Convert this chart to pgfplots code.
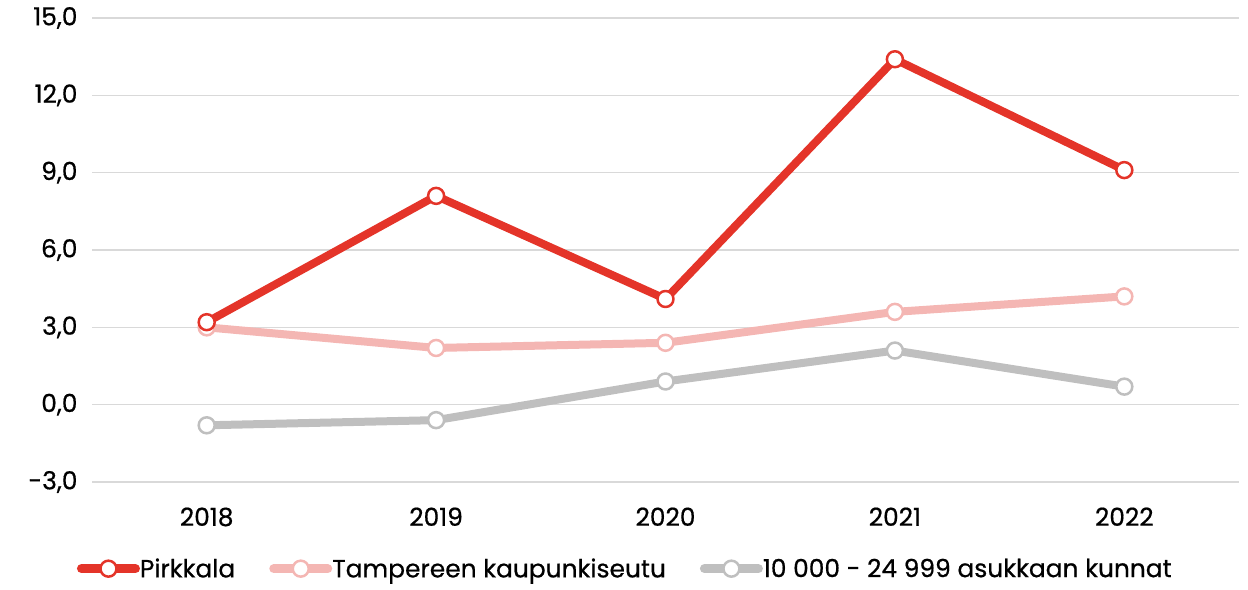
\documentclass[border=0pt]{standalone}
\usepackage{fontspec}
\setmainfont{Poppins}[FakeBold=0.6]
\usepackage{pgfplots}
\pgfplotsset{compat=1.18}
\definecolor{cred}{RGB}{228,52,41}
\definecolor{cpink}{RGB}{244,182,179}
\definecolor{cgray}{RGB}{191,191,191}
\definecolor{cgrid}{RGB}{217,217,217}
\begin{document}
\begin{tikzpicture}
\begin{axis}[
  name=ax,
  scale only axis,
  width=1147bp, height=464bp,
  xmin=-0.5, xmax=4.5,
  ymin=-3, ymax=15,
  ytick={-3,0,3,6,9,12,15},
  xtick={0,1,2,3,4},
  xticklabels={2018,2019,2020,2021,2022},
  axis line style={draw=none},
  major tick length=0pt,
  ymajorgrids,
  grid style={draw=cgrid, line width=1.6bp},
  tick label style={font=\fontsize{25}{29}\selectfont, text=black},
  yticklabel style={xshift=-11bp},
  xticklabel style={yshift=-22bp},
  /pgf/number format/assume math mode=true,
  /pgf/number format/.cd, fixed, fixed zerofill, precision=1, use comma, 1000 sep={},
  /pgfplots/.cd,
  legend columns=-1,
  legend style={draw=none, fill=none, at={(0.465,-0.16)}, anchor=north,
    font=\fontsize{25}{29}\selectfont, inner xsep=0pt, inner ysep=0pt,
    /tikz/every odd column/.append style={column sep=-2bp},
    /tikz/every even column/.append style={column sep=32bp}},
  legend cell align=left,
  legend image code/.code={
    \draw[mark repeat=2,mark phase=2, line width=9bp, line cap=round] plot coordinates {(0bp,0bp) (27bp,0bp) (54bp,0bp)};
  },
  every axis plot/.append style={line width=8bp, line join=round,
    mark=*, mark size=8bp, mark options={fill=white, line width=2.5bp}},
]
\addplot[color=cgray, forget plot] coordinates {(0,-0.8) (1,-0.6) (2,0.9) (3,2.1) (4,0.7)};
\addplot[color=cpink, forget plot] coordinates {(0,3.0) (1,2.2) (2,2.4) (3,3.6) (4,4.2)};
\addplot[color=cred] coordinates {(0,3.2) (1,8.1) (2,4.1) (3,13.4) (4,9.1)};
\addlegendentry{Pirkkala}
\addlegendimage{color=cpink}
\addlegendentry{Tampereen kaupunkiseutu}
\addlegendimage{color=cgray}
\addlegendentry{10 000 - 24 999 asukkaan kunnat}
\end{axis}
\pgfresetboundingbox
\path ([shift={(-92bp,-107bp)}]ax.south west) rectangle ([shift={(9bp,18bp)}]ax.north east);
\end{tikzpicture}
\end{document}
